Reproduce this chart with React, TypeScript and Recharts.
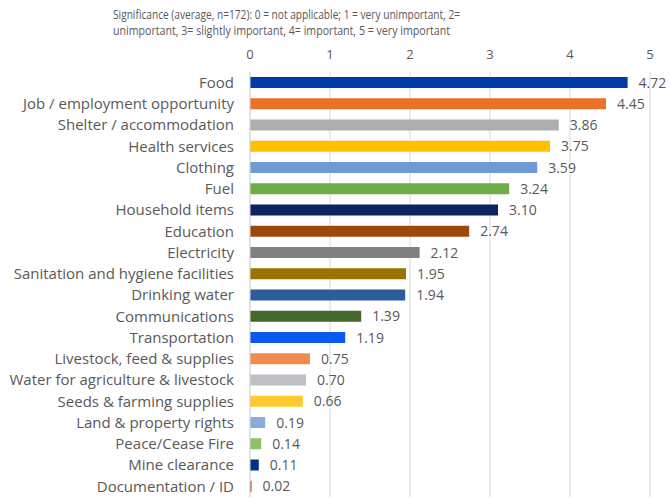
import React from 'react'
import { BarChart, Bar, XAxis, YAxis, CartesianGrid, Cell, LabelList } from 'recharts'

const categories = [
    'Food',
    'Job / employment opportunity',
    'Shelter / accommodation',
    'Health services',
    'Clothing',
    'Fuel',
    'Household items',
    'Education',
    'Electricity',
    'Sanitation and hygiene facilities',
    'Drinking water',
    'Communications',
    'Transportation',
    'Livestock, feed & supplies',
    'Water for agriculture & livestock',
    'Seeds & farming supplies',
    'Land & property rights',
    'Peace/Cease Fire',
    'Mine clearance',
    'Documentation / ID',
]

const significance = [
    4.72, 4.45, 3.86, 3.75, 3.59, 3.24, 3.1, 2.74, 2.12, 1.95, 1.94, 1.39, 1.19, 0.75, 0.7, 0.66,
    0.19, 0.14, 0.11, 0.02,
]

const barColors = [
    '#003AA8', '#EB7128', '#AEAEB0', '#FFC000', '#6E9AD6', '#70AD47', '#0B2360', '#9E480E',
    '#808080', '#997300', '#2E5B9A', '#43682B', '#0A58EC', '#F08D4E', '#BFC0C4', '#FFCA2E',
    '#8EAADB', '#8CC168', '#00338A', '#B85420',
]

const xTicks = [0, 1, 2, 3, 4, 5]

const titleLines = [
    'Significance (average, n=172): 0 = not applicable; 1 = very unimportant, 2=',
    'unimportant, 3= slightly important, 4= important, 5 = very important',
]

const data = categories.map((name, i) => ({ name, value: significance[i] }))

const font = 'Open Sans, sans-serif'
const grey = '#595959'

const App = () => {
    return (
        <div style={{ position: 'absolute', left: 0, top: 0, width: 670, height: 498, background: '#fff' }}>
            <svg width={670} height={48} style={{ position: 'absolute', left: 0, top: 0 }}>
                <text x={113} y={19} fontSize={12} fill={grey} fontFamily={font} textLength={347} lengthAdjust="spacingAndGlyphs">
                    {titleLines[0]}
                </text>
                <text x={113} y={35} fontSize={12} fill={grey} fontFamily={font} textLength={337} lengthAdjust="spacingAndGlyphs">
                    {titleLines[1]}
                </text>
            </svg>
            <BarChart
                width={670}
                height={498}
                data={data}
                layout="vertical"
                barCategoryGap="24%"
                margin={{ top: 42, right: 20, left: 0, bottom: 1 }}
            >
                <CartesianGrid horizontal={false} stroke="#D9D9D9" />
                <XAxis
                    type="number"
                    orientation="top"
                    height={30}
                    domain={[0, 5]}
                    ticks={xTicks}
                    axisLine={false}
                    tickLine={false}
                    tickSize={0}
                    tickMargin={13}
                    tick={{ fill: grey, fontSize: 13, fontFamily: font }}
                />
                <YAxis
                    type="category"
                    dataKey="name"
                    width={250}
                    interval={0}
                    axisLine={{ stroke: '#D9D9D9' }}
                    tickLine={false}
                    tickSize={0}
                    tickMargin={16}
                    tick={{ fill: grey, fontSize: 15, fontFamily: font }}
                />
                <Bar dataKey="value" isAnimationActive={false}>
                    {data.map((d, i) => (
                        <Cell key={d.name} fill={barColors[i]} />
                    ))}
                    <LabelList
                        dataKey="value"
                        position="right"
                        offset={11}
                        formatter={(v: number) => v.toFixed(2)}
                        style={{ fill: grey, fontSize: 14, fontFamily: font }}
                    />
                </Bar>
            </BarChart>
        </div>
    )
}

export default App
